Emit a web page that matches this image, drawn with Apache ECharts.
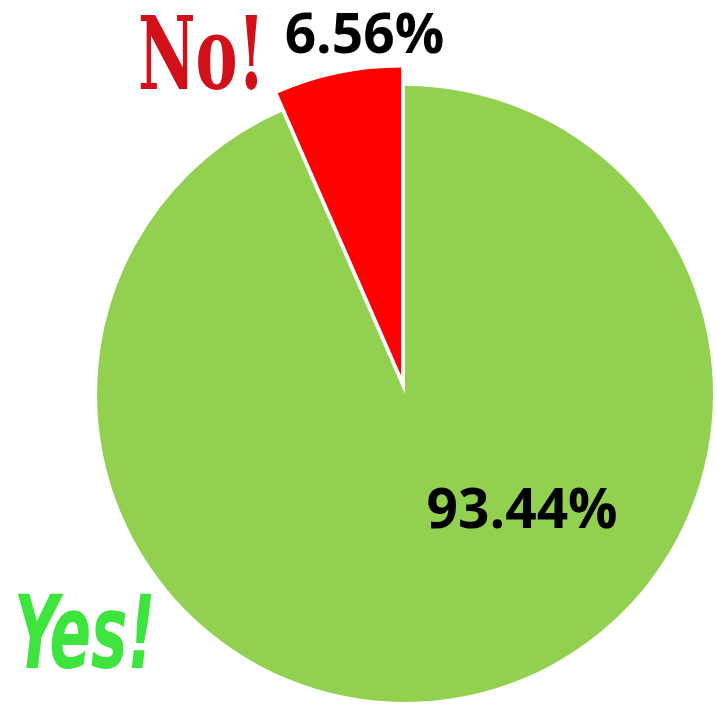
<!DOCTYPE html>
<html>
<head>
<meta charset="utf-8">
<script src="https://cdn.jsdelivr.net/npm/echarts@6/dist/echarts.min.js"></script>
<style>
  html, body { margin: 0; padding: 0; background: #fff; }
  #chart { width: 717px; height: 707px; }
</style>
</head>
<body>
<div id="chart"></div>
<script>
// data
const names = ['Yes', 'No']
const values = [93.44, 6.56]
const colors = ['#92D050', '#FF0000']
const labelTexts = ['93.44%', '6.56%']

const myChart = echarts.init(document.getElementById('chart'))

// label placement per slice (offset from the "inside" spot)
const labelOffsets = [[85, -35], [25, -184]]

const makeLabel = (i) => ({
  show: true,
  position: 'inside',
  formatter: labelTexts[i],
  offset: labelOffsets[i],
  color: '#000',
  fontFamily: 'Open Sans',
  fontWeight: 'bold',
  fontSize: 55
})

const seriesData = names.map((n, i) => ({
  name: n,
  value: values[i],
  selected: i === 1,
  itemStyle: { color: colors[i], borderWidth: 0 },
  label: makeLabel(i),
  select: {
    itemStyle: { color: colors[i], borderWidth: 0 },
    label: makeLabel(i)
  }
}))

myChart.setOption({
  animation: false,
  backgroundColor: '#fff',
  graphic: [
    {
      type: 'text',
      x: 138,
      y: 12,
      scaleY: 1.45,
      style: {
        text: 'No!',
        verticalAlign: 'top',
        fontFamily: 'DejaVu Serif Condensed',
        fontWeight: 'bold',
        fontSize: 70,
        fill: '#D2101A',
        textShadowColor: '#6e0808',
        textShadowOffsetX: 3,
        textShadowOffsetY: 2
      }
    },
    {
      type: 'text',
      x: 14,
      y: 590,
      scaleY: 1.5,
      style: {
        text: 'Yes!',
        verticalAlign: 'top',
        fontFamily: 'DejaVu Sans Condensed',
        fontWeight: 'bold',
        fontStyle: 'italic',
        fontSize: 68,
        fill: '#3EE43E',
        textShadowColor: '#1f9a1f',
        textShadowOffsetX: 3,
        textShadowOffsetY: 2
      }
    }
  ],
  series: [{
    type: 'pie',
    center: [405, 394],
    radius: 308,
    startAngle: 90,
    clockwise: true,
    selectedMode: 'single',
    selectedOffset: 19,
    itemStyle: { borderWidth: 0 },
    labelLine: { show: false },
    emphasis: { scale: false },
    data: seriesData
  }]
})
</script>
</body>
</html>
